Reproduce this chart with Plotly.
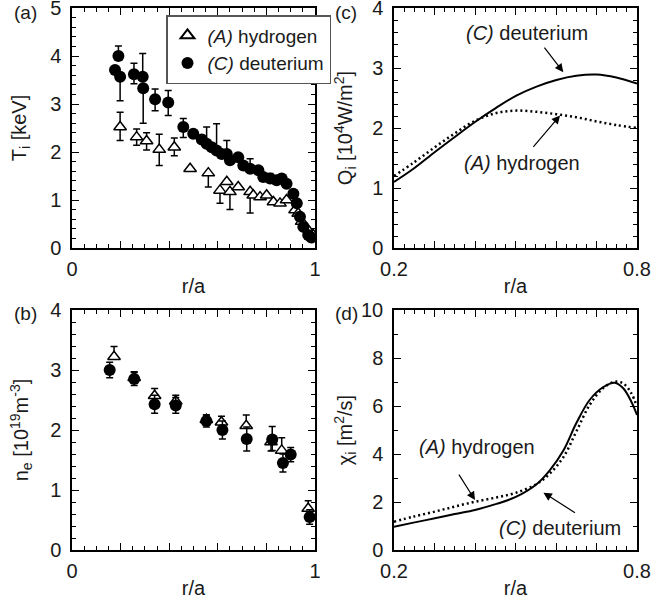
import plotly.graph_objects as go

# ---------------- data ----------------
# (a) ion temperature Ti [keV]
ti_d_x = [0.177, 0.191, 0.198, 0.255, 0.291, 0.293, 0.342, 0.396, 0.458, 0.499, 0.534, 0.554, 0.575, 0.595,
          0.616, 0.637, 0.650, 0.684, 0.705, 0.733, 0.767, 0.787, 0.815, 0.842, 0.863, 0.883, 0.911, 0.925,
          0.938, 0.952, 0.972, 0.985]
ti_d_y = [3.71, 4.00, 3.57, 3.62, 3.57, 3.33, 3.10, 3.03, 2.52, 2.38, 2.26, 2.17, 2.10, 2.03,
          1.96, 1.96, 1.83, 1.89, 1.72, 1.65, 1.62, 1.48, 1.45, 1.41, 1.45, 1.34, 1.13, 0.93,
          0.65, 0.44, 0.27, 0.22]
ti_d_ep = [0, 0.21, 0, 0.23, 0.48, 0, 0.21, 0.25, 0.18, 0, 0, 0.35, 0, 0.56,
           0, 0.28, 0, 0, 0, 0.21, 0, 0, 0.10, 0, 0, 0, 0, 0,
           0, 0, 0, 0]
ti_d_em = [0, 0, 0.50, 0.20, 0, 0.73, 0.24, 0.27, 0.22, 0, 0, 0, 0, 0,
           0, 0, 0, 0, 0, 0, 0, 0, 0, 0, 0, 0, 0, 0,
           0, 0, 0, 0]

ti_h_x = [0.198, 0.266, 0.307, 0.359, 0.421, 0.486, 0.561, 0.609, 0.637, 0.650, 0.684, 0.733, 0.746,
          0.774, 0.801, 0.829, 0.856, 0.883, 0.918, 0.931, 0.945, 0.966, 0.993]
ti_h_y = [2.52, 2.31, 2.23, 2.05, 2.10, 1.65, 1.56, 1.20, 1.38, 1.17, 1.27, 1.17, 1.10,
          1.06, 1.10, 0.96, 0.93, 1.00, 0.79, 0.72, 0.55, 0.41, 0.27]
ti_h_ep = [0.31, 0.17, 0.17, 0.32, 0.19, 0, 0, 0, 0, 0, 0, 0, 0,
           0, 0, 0, 0, 0, 0, 0, 0, 0, 0]
ti_h_em = [0.28, 0.17, 0.19, 0.33, 0.18, 0, 0.29, 0.27, 0, 0.37, 0, 0.44, 0,
           0, 0, 0, 0, 0, 0, 0, 0, 0, 0]

# (b) electron density ne [1e19 m^-3]
ne_d_x = [0.155, 0.256, 0.340, 0.427, 0.553, 0.619, 0.719, 0.824, 0.868, 0.900, 0.978]
ne_d_y = [3.00, 2.85, 2.43, 2.41, 2.15, 2.00, 1.85, 1.84, 1.45, 1.59, 0.55]
ne_d_ep = [0.13, 0.11, 0.15, 0.13, 0.10, 0.15, 0.20, 0.22, 0.15, 0.12, 0.12]
ne_d_em = [0.13, 0.11, 0.15, 0.13, 0.10, 0.15, 0.20, 0.18, 0.15, 0.12, 0.12]

ne_h_x = [0.173, 0.256, 0.340, 0.427, 0.553, 0.615, 0.717, 0.819, 0.863, 0.972]
ne_h_y = [3.22, 2.87, 2.57, 2.48, 2.17, 2.13, 2.07, 1.80, 1.66, 0.69]
ne_h_ep = [0.17, 0.10, 0.12, 0.10, 0.08, 0.10, 0.18, 0.00, 0.21, 0.13]
ne_h_em = [0.00, 0.00, 0.00, 0.00, 0.00, 0.00, 0.00, 0.15, 0.00, 0.00]

# (c) ion heat flux Qi [1e4 W/m^2]
q_x = [0.200, 0.248, 0.301, 0.350, 0.400, 0.453, 0.502, 0.552, 0.601, 0.650, 0.700, 0.749, 0.800]
q_d = [1.10, 1.32, 1.60, 1.85, 2.10, 2.34, 2.54, 2.69, 2.80, 2.87, 2.89, 2.84, 2.74]
q_h = [1.20, 1.42, 1.68, 1.91, 2.12, 2.25, 2.29, 2.27, 2.23, 2.18, 2.11, 2.05, 2.00]

# (d) ion thermal diffusivity chi_i [m^2/s]
chi_x = [0.200, 0.248, 0.301, 0.350, 0.400, 0.453, 0.502, 0.552, 0.585, 0.619, 0.650, 0.683,
         0.716, 0.745, 0.766, 0.786, 0.800]
chi_d = [0.97, 1.14, 1.32, 1.50, 1.67, 1.92, 2.22, 2.74, 3.33, 4.17, 5.28, 6.25,
         6.78, 6.97, 6.74, 6.18, 5.63]
chi_h = [1.18, 1.39, 1.60, 1.81, 2.01, 2.19, 2.39, 2.75, 3.19, 3.89, 4.93, 6.04,
         6.74, 7.01, 6.94, 6.53, 5.97]

# ---------------- figure ----------------
W, H = 671, 601
FONT = "Liberation Sans, Arial, Helvetica, sans-serif"
TXT = "#1a1a1a"
FS = 20

def px_x(p):
    return p / W

def px_y(p):
    return 1 - p / H

fig = go.Figure()

err_style = dict(type="data", symmetric=False, color="black", thickness=1.5, width=3.5)
tri = dict(symbol="triangle-up", size=11, color="white", line=dict(color="black", width=1.5))
dot = dict(symbol="circle", size=12, color="black", line=dict(color="black", width=0))

# (a)
fig.add_trace(go.Scatter(x=ti_h_x, y=ti_h_y, mode="markers", marker=tri, name="<i>(A)</i> hydrogen",
                         error_y=dict(array=ti_h_ep, arrayminus=ti_h_em, **err_style),
                         xaxis="x", yaxis="y"))
fig.add_trace(go.Scatter(x=ti_d_x, y=ti_d_y, mode="markers", marker=dot, name="<i>(C)</i> deuterium",
                         error_y=dict(array=ti_d_ep, arrayminus=ti_d_em, **err_style),
                         xaxis="x", yaxis="y"))
# (b)
fig.add_trace(go.Scatter(x=ne_h_x, y=ne_h_y, mode="markers", marker=tri, showlegend=False,
                         error_y=dict(array=ne_h_ep, arrayminus=ne_h_em, **err_style),
                         xaxis="x3", yaxis="y3"))
fig.add_trace(go.Scatter(x=ne_d_x, y=ne_d_y, mode="markers", marker=dot, showlegend=False,
                         error_y=dict(array=ne_d_ep, arrayminus=ne_d_em, **err_style),
                         xaxis="x3", yaxis="y3"))
# (c)
fig.add_trace(go.Scatter(x=q_x, y=q_h, mode="lines", line=dict(color="black", width=2.5, dash="2px,3px", shape="spline"),
                         showlegend=False, xaxis="x2", yaxis="y2"))
fig.add_trace(go.Scatter(x=q_x, y=q_d, mode="lines", line=dict(color="black", width=2, shape="spline"),
                         showlegend=False, xaxis="x2", yaxis="y2"))
# (d)
fig.add_trace(go.Scatter(x=chi_x, y=chi_h, mode="lines", line=dict(color="black", width=2.5, dash="2px,3px", shape="spline"),
                         showlegend=False, xaxis="x4", yaxis="y4"))
fig.add_trace(go.Scatter(x=chi_x, y=chi_d, mode="lines", line=dict(color="black", width=2, shape="spline"),
                         showlegend=False, xaxis="x4", yaxis="y4"))

XL = [px_x(72), px_x(315)]
XR = [px_x(394), px_x(637)]
YT = [px_y(248), px_y(8)]
YB = [px_y(550), px_y(310)]

def axis(domain, rng, tickvals, ticktext, minor_dtick, anchor, title, standoff, tick0=0, lab_off=5):
    return dict(domain=domain, range=rng, anchor=anchor, automargin=False,
                showline=True, linecolor="black", linewidth=1.5,
                mirror="allticks", ticks="inside", ticklen=7, tickwidth=1.3, tickcolor="black",
                showgrid=False, zeroline=False, tickmode="array", tickvals=tickvals, ticktext=ticktext,
                tickfont=dict(family=FONT, size=FS, color=TXT), ticklabelstandoff=lab_off,
                ticklabeloverflow="allow",
                minor=dict(dtick=minor_dtick, tick0=tick0, ticks="inside", ticklen=4, tickwidth=1.1,
                           tickcolor="black", showgrid=False),
                title=dict(text=title, font=dict(family=FONT, size=FS, color=TXT), standoff=standoff))

fig.update_layout(
    width=W, height=H, margin=dict(l=0, r=0, t=0, b=0, autoexpand=False),
    paper_bgcolor="white", plot_bgcolor="white",
    font=dict(family=FONT, size=FS, color=TXT),
    xaxis=axis(XL, [0, 1], [0, 0.2, 0.4, 0.6, 0.8, 1.0], ["0", "", "", "", "", "1"], 0.05, "y", "r/a", 0, lab_off=2),
    yaxis=axis(YT, [0, 5], [0, 1, 2, 3, 4, 5], ["0", "1", "2", "3", "4", "5"], 0.2, "x",
               "T<sub>i</sub> [keV]", 18),
    xaxis2=axis(XR, [0.2, 0.8], [0.2, 0.3, 0.4, 0.5, 0.6, 0.7, 0.8], ["0.2", "", "", "", "", "", "0.8"],
                0.025, "y2", "r/a", 0, tick0=0.2, lab_off=2),
    yaxis2=axis(YT, [0, 4], [0, 1, 2, 3, 4], ["0", "1", "2", "3", "4"], 0.2, "x2",
                "Q<sub>i</sub> [10<sup>4</sup>W/m<sup>2</sup>]", 14),
    xaxis3=axis(XL, [0, 1], [0, 0.2, 0.4, 0.6, 0.8, 1.0], ["0", "", "", "", "", "1"], 0.05, "y3", "r/a", 0, lab_off=2),
    yaxis3=axis(YB, [0, 4], [0, 1, 2, 3, 4], ["0", "1", "2", "3", "4"], 0.2, "x3",
                "n<sub>e</sub> [10<sup>19</sup>m<sup>-3</sup>]", 16),
    xaxis4=axis(XR, [0.2, 0.8], [0.2, 0.3, 0.4, 0.5, 0.6, 0.7, 0.8], ["0.2", "", "", "", "", "", "0.8"],
                0.025, "y4", "r/a", 0, tick0=0.2, lab_off=2),
    yaxis4=axis(YB, [0, 10], [0, 2, 4, 6, 8, 10], ["0", "2", "4", "6", "8", "10"], 1, "x4",
                "χ<sub>i</sub> [m<sup>2</sup>/s]", 3),
    legend=dict(x=px_x(166), y=px_y(15), xanchor="left", yanchor="top", bgcolor="white",
                bordercolor="#555", borderwidth=1.5, font=dict(family=FONT, size=19, color=TXT),
                itemsizing="constant", tracegroupgap=0),
    showlegend=True,
)

ann = []
for lab, xp, yp in [("(a)", 25, 13), ("(b)", 25, 313), ("(c)", 346, 13), ("(d)", 346, 313)]:
    ann.append(dict(text=lab, x=px_x(xp), y=px_y(yp), xref="paper", yref="paper", showarrow=False,
                    xanchor="center", yanchor="middle", font=dict(family=FONT, size=19, color=TXT)))

afont = dict(family=FONT, size=FS, color=TXT)
# (c) annotations
ann.append(dict(text="<i>(C)</i> deuterium", x=0.528, y=3.59, xref="x2", yref="y2", showarrow=False, font=afont))
ann.append(dict(text="", x=0.618, y=2.93, xref="x2", yref="y2", showarrow=True, ax=-20, ay=-26,
                arrowhead=2, arrowsize=1.4, arrowwidth=1.2, arrowcolor="black"))
ann.append(dict(text="<i>(A)</i> hydrogen", x=0.515, y=1.41, xref="x2", yref="y2", showarrow=False, font=afont))
ann.append(dict(text="", x=0.610, y=2.21, xref="x2", yref="y2", showarrow=True, ax=-28, ay=33,
                arrowhead=2, arrowsize=1.4, arrowwidth=1.2, arrowcolor="black"))
# (d) annotations
ann.append(dict(text="<i>(A)</i> hydrogen", x=0.404, y=4.30, xref="x4", yref="y4", showarrow=False, font=afont))
ann.append(dict(text="", x=0.400, y=2.08, xref="x4", yref="y4", showarrow=True, ax=-17, ay=-27,
                arrowhead=2, arrowsize=1.4, arrowwidth=1.2, arrowcolor="black"))
ann.append(dict(text="<i>(C)</i> deuterium", x=0.610, y=0.90, xref="x4", yref="y4", showarrow=False, font=afont))
ann.append(dict(text="", x=0.569, y=2.39, xref="x4", yref="y4", showarrow=True, ax=33, ay=21,
                arrowhead=2, arrowsize=1.4, arrowwidth=1.2, arrowcolor="black"))

fig.update_layout(annotations=ann)

fig.write_html("out.html", config={"displayModeBar": False},
               post_script="document.body.style.margin='0';document.body.style.padding='0';"
                           "document.documentElement.style.overflow='hidden';")
